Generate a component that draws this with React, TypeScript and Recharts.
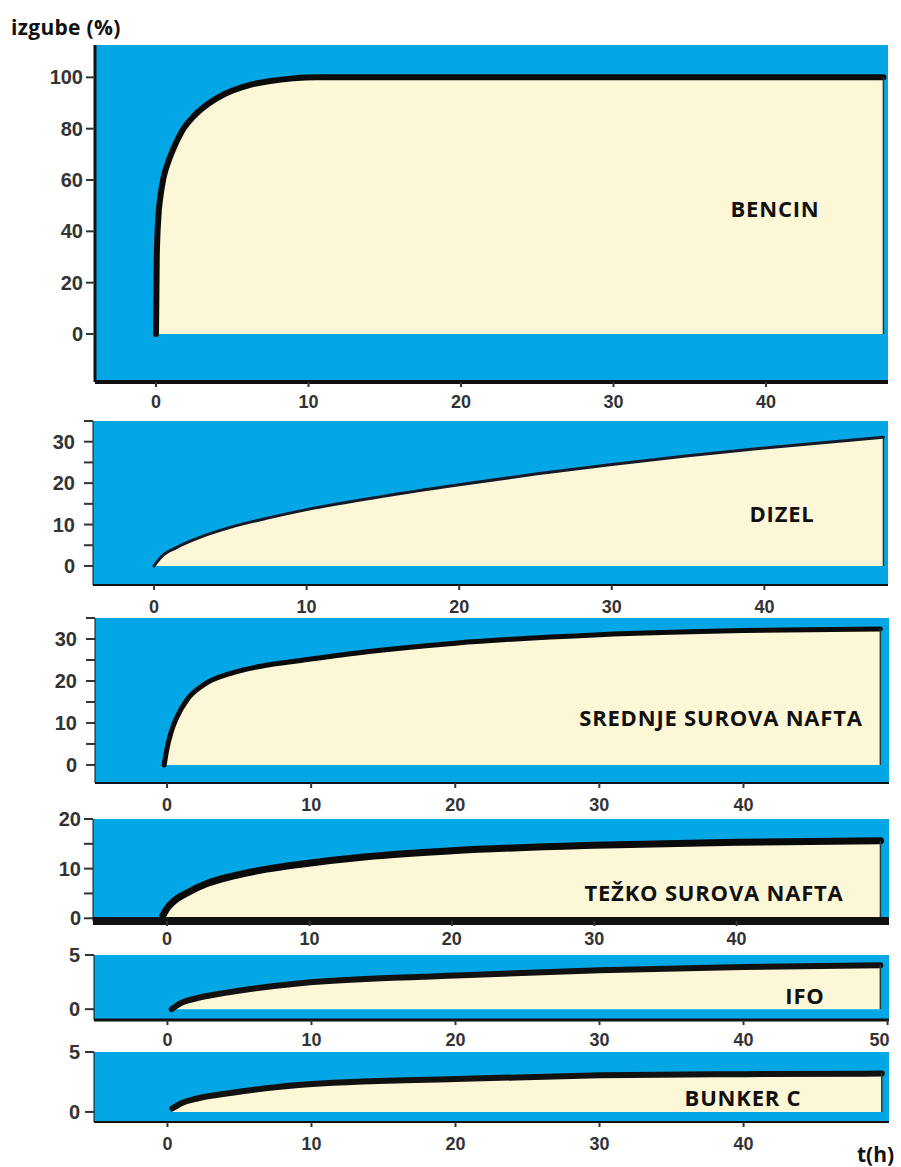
import React from "react";
import {
  AreaChart,
  Area,
  XAxis,
  YAxis,
  CartesianGrid,
  ReferenceLine,
} from "recharts";

// t (h) and losses (%)
const bencinT = [0, 0.05, 0.15, 0.3, 0.5, 0.8, 1.2, 1.7, 2.5, 3.5, 4.5, 6, 7.5, 9, 10.5, 47.7];
const bencinV = [0, 30, 45, 54, 61, 67, 73, 79, 85, 90, 93.5, 96.8, 98.6, 99.6, 100, 100];

const dizelT = [0, 0.5, 1.5, 3, 5, 7.5, 10, 15, 20, 25, 30, 35, 40, 47.8];
const dizelV = [0, 2.3, 4.5, 6.9, 9.3, 11.6, 13.6, 16.8, 19.6, 22.2, 24.5, 26.6, 28.5, 31.1];

const srednjeT = [-0.2, 0, 0.3, 0.7, 1.4, 2.5, 4.6, 7, 9.3, 14, 20, 30, 40, 49.5];
const srednjeV = [0, 4, 8, 11.5, 15.6, 19, 22, 23.8, 24.9, 27, 29, 31, 32, 32.4];

const tezkoT = [-0.3, 0, 0.5, 1.4, 2.8, 4.6, 7, 9.4, 14, 20, 30, 40, 50.1];
const tezkoV = [0.5, 2, 3.5, 5.1, 7, 8.5, 9.9, 10.9, 12.4, 13.6, 14.7, 15.3, 15.6];

const ifoT = [0.3, 1, 2, 4, 9.2, 20, 30, 40, 49.5];
const ifoV = [0, 0.6, 1.0, 1.5, 2.4, 3.1, 3.6, 3.9, 4.05];

const bunkerT = [0.35, 1, 2, 4.5, 9.1, 20, 30, 40, 49.6];
const bunkerV = [0.3, 0.75, 1.1, 1.6, 2.25, 2.75, 3.05, 3.15, 3.2];

const xTicks40 = [0, 10, 20, 30, 40];
const xTicks50 = [0, 10, 20, 30, 40, 50];
const yTicks100 = [0, 20, 40, 60, 80, 100];
const yTicks35 = [0, 5, 10, 15, 20, 25, 30, 35];
const yTicks20 = [0, 5, 10, 15, 20];
const yTicks5 = [0, 5];

const BLUE = "#04a7e6";
const CREAM = "#fcf7d6";
const TICK_FONT = "'Liberation Sans', Arial, sans-serif";

const toRows = (t: number[], v: number[]) => t.map((x, i) => ({ t: x, v: v[i] }));

interface PanelProps {
  top: number; // plot area top (px on page)
  plotH: number;
  left: number; // plot area left
  right: number; // plot area right
  xDomain: [number, number];
  yDomain: [number, number];
  xTicks: number[];
  yTicks: number[];
  yLabel: (v: number) => string;
  t: number[];
  v: number[];
  lineWidth: number;
  lineColor: string;
  xAxisWidth: number;
  yAxisWidth: number;
  yTickMargin: number;
  xTickMargin: number;
  edgeAnchor50?: boolean;
}

const XTick = (props: any) => {
  const { x, y, payload, edgeAnchor50 } = props;
  const end = edgeAnchor50 && payload.value === 50;
  return (
    <text
      x={end ? x + 2 : x}
      y={y}
      dy="0.71em"
      textAnchor={end ? "end" : "middle"}
      fill="#333"
      fontSize={18}
      fontWeight={700}
      fontFamily={TICK_FONT}
    >
      {payload.value}
    </text>
  );
};

function Panel(p: PanelProps) {
  const mt = 10;
  const xh = 32;
  const data = toRows(p.t, p.v);
  const lastT = p.t[p.t.length - 1];
  const lastV = p.v[p.v.length - 1];
  return (
    <div style={{ position: "absolute", left: 0, top: p.top - mt }}>
      <AreaChart
        width={901}
        height={mt + p.plotH + xh}
        data={data}
        margin={{ top: mt, right: 901 - p.right, bottom: 0, left: 0 }}
      >
        <CartesianGrid
          fill={BLUE}
          fillOpacity={1}
          stroke="none"
          horizontal={false}
          vertical={false}
        />
        <XAxis
          dataKey="t"
          type="number"
          domain={p.xDomain}
          ticks={p.xTicks}
          allowDataOverflow
          height={xh}
          tickSize={5}
          tickMargin={p.xTickMargin}
          axisLine={{ stroke: "#111", strokeWidth: p.xAxisWidth }}
          tickLine={{ stroke: "#333", strokeWidth: 2 }}
          tick={<XTick edgeAnchor50={p.edgeAnchor50} />}
          interval={0}
        />
        <YAxis
          type="number"
          domain={p.yDomain}
          ticks={p.yTicks}
          allowDataOverflow
          width={p.left}
          tickSize={9}
          tickMargin={p.yTickMargin}
          interval={0}
          tickFormatter={p.yLabel}
          axisLine={{ stroke: "#111", strokeWidth: p.yAxisWidth }}
          tickLine={{ stroke: "#333", strokeWidth: 2 }}
          tick={{ fill: "#333", fontSize: 20, fontWeight: 700, fontFamily: TICK_FONT }}
        />
        <Area
          dataKey="v"
          type="monotone"
          baseValue={0}
          stroke={p.lineColor}
          strokeWidth={p.lineWidth}
          strokeLinecap="round"
          fill={CREAM}
          fillOpacity={1}
          isAnimationActive={false}
          dot={false}
          activeDot={false}
        />
        <ReferenceLine
          segment={[
            { x: lastT, y: 0 },
            { x: lastT, y: lastV },
          ]}
          stroke="#2a3a3a"
          strokeWidth={1.5}
        />
      </AreaChart>
    </div>
  );
}

const tenOnly = (max: number) => (v: number) => (v % 10 === 0 && v <= max ? String(v) : "");

const labelStyle: React.CSSProperties = {
  position: "absolute",
  transform: "translate(-50%, -50%)",
  fontFamily: "'Open Sans', sans-serif",
  fontWeight: 700,
  fontSize: 22,
  letterSpacing: 0.8,
  color: "#111",
  whiteSpace: "nowrap",
  lineHeight: 1,
};

export default function App() {
  return (
    <div
      style={{
        position: "absolute",
        left: 0,
        top: 0,
        width: 901,
        height: 1167,
        background: "#fff",
        overflow: "hidden",
      }}
    >
      <div
        style={{
          position: "absolute",
          left: 11,
          top: 13,
          fontFamily: "'Open Sans', sans-serif",
          fontWeight: 700,
          fontSize: 21,
          letterSpacing: 0.3,
          color: "#111",
        }}
      >
        izgube (%)
      </div>

      <Panel
        top={45} plotH={337} left={95} right={888}
        xDomain={[-4, 48]} yDomain={[-18.7, 112.6]}
        xTicks={xTicks40} yTicks={yTicks100} yLabel={(v) => String(v)}
        t={bencinT} v={bencinV} lineWidth={6} lineColor="#0a0a0a"
        xAxisWidth={4} yAxisWidth={3} yTickMargin={3} xTickMargin={8}
      />
      <Panel
        top={421} plotH={164} left={93} right={888}
        xDomain={[-4, 48.1]} yDomain={[-4.6, 35]}
        xTicks={xTicks40} yTicks={yTicks35} yLabel={tenOnly(30)}
        t={dizelT} v={dizelV} lineWidth={3} lineColor="#141a2a"
        xAxisWidth={2} yAxisWidth={1} yTickMargin={9} xTickMargin={10}
      />
      <Panel
        top={618} plotH={165} left={95} right={889}
        xDomain={[-5, 50.1]} yDomain={[-4.3, 35]}
        xTicks={xTicks40} yTicks={yTicks35} yLabel={tenOnly(30)}
        t={srednjeT} v={srednjeV} lineWidth={5} lineColor="#0a0a0a"
        xAxisWidth={2} yAxisWidth={1} yTickMargin={9} xTickMargin={10}
      />
      <Panel
        top={819} plotH={102} left={93} right={889}
        xDomain={[-5.2, 50.7]} yDomain={[-0.55, 20]}
        xTicks={xTicks40} yTicks={yTicks20} yLabel={tenOnly(20)}
        t={tezkoT} v={tezkoV} lineWidth={7} lineColor="#0a0a0a"
        xAxisWidth={8} yAxisWidth={1} yTickMargin={3} xTickMargin={6}
      />
      <Panel
        top={955} plotH={65} left={94} right={889}
        xDomain={[-5.1, 50.1]} yDomain={[-1, 5]}
        xTicks={xTicks50} yTicks={yTicks5} yLabel={(v) => String(v)}
        t={ifoT} v={ifoV} lineWidth={6} lineColor="#111"
        xAxisWidth={3} yAxisWidth={1} yTickMargin={5} xTickMargin={8}
        edgeAnchor50
      />
      <Panel
        top={1052} plotH={70} left={94} right={889}
        xDomain={[-5.1, 50.1]} yDomain={[-0.84, 5]}
        xTicks={xTicks40} yTicks={yTicks5} yLabel={(v) => String(v)}
        t={bunkerT} v={bunkerV} lineWidth={6} lineColor="#111"
        xAxisWidth={2} yAxisWidth={1} yTickMargin={5} xTickMargin={10}
      />

      <div style={{ ...labelStyle, left: 775, top: 208 }}>BENCIN</div>
      <div style={{ ...labelStyle, left: 782, top: 513 }}>DIZEL</div>
      <div style={{ ...labelStyle, left: 721, top: 717 }}>SREDNJE SUROVA NAFTA</div>
      <div style={{ ...labelStyle, left: 714, top: 892 }}>TEŽKO SUROVA NAFTA</div>
      <div style={{ ...labelStyle, left: 805, top: 995 }}>IFO</div>
      <div style={{ ...labelStyle, left: 743, top: 1097 }}>BUNKER C</div>

      <div
        style={{
          position: "absolute",
          left: 857,
          top: 1140,
          fontFamily: "'Open Sans', sans-serif",
          fontWeight: 700,
          fontSize: 21,
          color: "#111",
        }}
      >
        t(h)
      </div>
    </div>
  );
}
